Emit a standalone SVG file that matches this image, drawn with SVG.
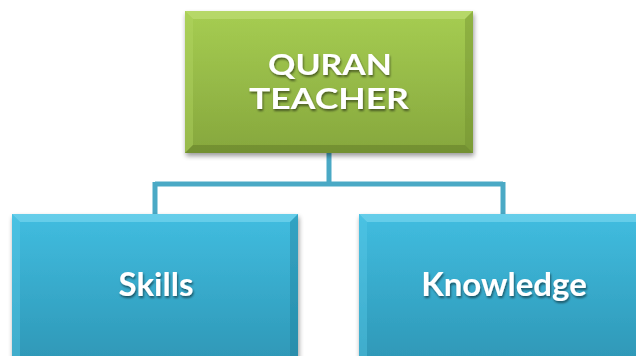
<svg xmlns="http://www.w3.org/2000/svg" width="636" height="356" viewBox="0 0 636 356">
<style>
.lbl{font-family:Lato,"Open Sans",sans-serif;font-weight:bold;fill:#fff;text-anchor:middle;filter:url(#ts)}
.conn{stroke:#4aa9c5;stroke-width:5;fill:none}
</style>
<defs>
<linearGradient id="gG" x1="0" y1="0" x2="0" y2="1">
<stop offset="0" stop-color="#a6cd52"/><stop offset="1" stop-color="#86a73d"/>
</linearGradient>
<linearGradient id="gB" x1="0" y1="0" x2="0" y2="1">
<stop offset="0" stop-color="#41bde0"/><stop offset="1" stop-color="#2e97b6"/>
</linearGradient>
<filter id="sh" x="-10%" y="-10%" width="125%" height="130%">
<feGaussianBlur in="SourceAlpha" stdDeviation="2.5"/>
<feOffset dx="1" dy="3"/>
<feComponentTransfer><feFuncA type="linear" slope="0.4"/></feComponentTransfer>
<feMerge><feMergeNode/><feMergeNode in="SourceGraphic"/></feMerge>
</filter>
<filter id="ts" x="-10%" y="-20%" width="125%" height="150%">
<feGaussianBlur in="SourceAlpha" stdDeviation="1"/>
<feOffset dx="1" dy="1.5"/>
<feComponentTransfer><feFuncA type="linear" slope="0.5"/></feComponentTransfer>
<feMerge><feMergeNode/><feMergeNode in="SourceGraphic"/></feMerge>
</filter>
</defs>
<g id="connectors">
<path class="conn" d="M329 153 V184 M155 184 H503 M155 182 V214 M503 182 V214"/>
</g>
<g id="node-quran" filter="url(#sh)">
<rect x="185" y="11" width="288" height="142" fill="url(#gG)"/>
<polygon points="185,11 473,11 465,19 193,19" fill="#c2e078" opacity="0.6"/>
<polygon points="185,11 193,19 193,145 185,153" fill="#b4d664" opacity="0.4"/>
<polygon points="473,11 473,153 465,145 465,19" fill="#6f8c2e" opacity="0.4"/>
<polygon points="185,153 473,153 465,145 193,145" fill="#607a27" opacity="0.5"/>
<text class="lbl" x="330" y="75" font-size="28" textLength="124" lengthAdjust="spacingAndGlyphs">QURAN</text>
<text class="lbl" x="329" y="109" font-size="28" textLength="160" lengthAdjust="spacingAndGlyphs">TEACHER</text>
</g>
<g id="node-skills" filter="url(#sh)">
<rect x="12" y="214" width="286" height="150" fill="url(#gB)"/>
<polygon points="12,214 298,214 290,222 20,222" fill="#7fd8f0" opacity="0.6"/>
<polygon points="12,214 20,222 20,364 12,364" fill="#5acbe8" opacity="0.4"/>
<polygon points="298,214 298,364 290,364 290,222" fill="#217d98" opacity="0.4"/>
<text class="lbl" x="156" y="296" font-size="33">Skills</text>
</g>
<g id="node-knowledge" filter="url(#sh)">
<rect x="359" y="214" width="290" height="150" fill="url(#gB)"/>
<polygon points="359,214 649,214 641,222 367,222" fill="#7fd8f0" opacity="0.6"/>
<polygon points="359,214 367,222 367,364 359,364" fill="#5acbe8" opacity="0.4"/>
<text class="lbl" x="504" y="296" font-size="33">Knowledge</text>
</g>
</svg>
